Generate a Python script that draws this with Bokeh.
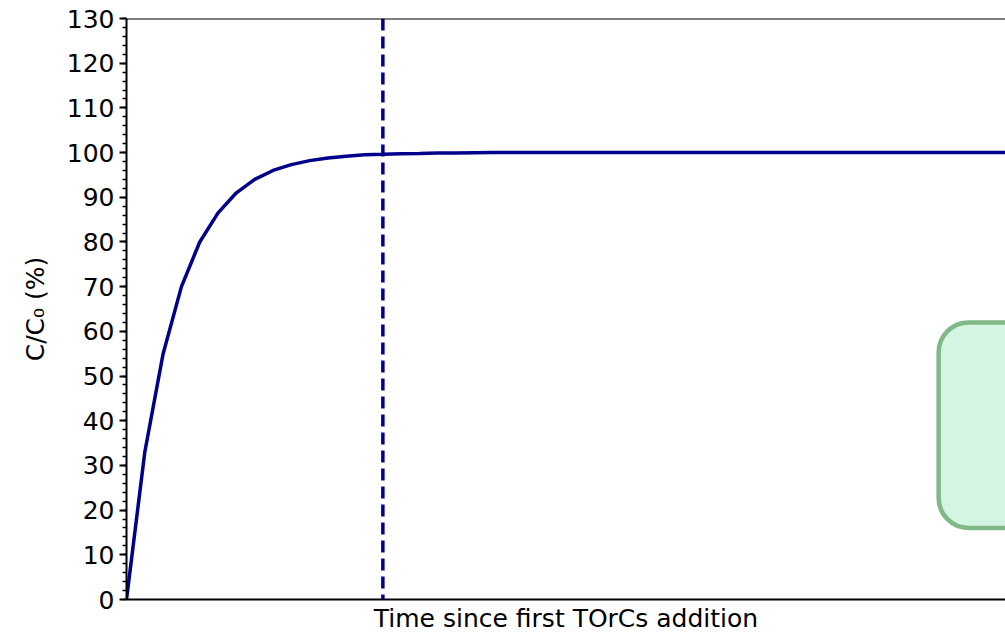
from bokeh.plotting import figure
from bokeh.models import Span, BoxAnnotation, FixedTicker, Range1d
from bokeh.embed import file_html
from bokeh.resources import INLINE

# Data
time = list(range(0, 49))
conc = [0, 33, 55, 70, 80, 86.5, 91, 94, 96, 97.3,
        98.2, 98.8, 99.2, 99.5, 99.6, 99.75, 99.8, 99.9, 99.9, 99.95,
        100, 100, 100, 100, 100, 100, 100, 100, 100, 100,
        100, 100, 100, 100, 100, 100, 100, 100, 100, 100,
        100, 100, 100, 100, 100, 100, 100, 100, 100]
first_addition_end = 14
y_ticks = [0, 10, 20, 30, 40, 50, 60, 70, 80, 90, 100, 110, 120, 130]
y_minor = [v for v in range(0, 131, 2)]
box_bottom, box_top, box_left = 16, 62, 44.35

FONT = "DejaVu Sans"

p = figure(width=1005, height=636, output_backend="svg", toolbar_location=None,
           x_range=Range1d(0, 48), y_range=Range1d(0, 130),
           min_border_left=126, min_border_right=0, min_border_top=18,
           min_border_bottom=37)
p.outline_line_color = None
p.grid.grid_line_color = None
p.background_fill_color = "white"
p.border_fill_color = "white"

p.line(time, conc, line_color="#00008b", line_width=3.5)

p.add_layout(Span(location=first_addition_end, dimension="height",
                  line_color="#00008b", line_width=3.5, line_dash="12 6"))
p.add_layout(Span(location=130, dimension="width", line_color="black",
                  line_width=2))

p.add_layout(BoxAnnotation(left=box_left, right=60, bottom=box_bottom, top=box_top,
                           fill_color="#d5f5e3", fill_alpha=1.0,
                           line_color="#80b888", line_alpha=1.0, line_width=4.5,
                           border_radius=30))

# y axis
ya = p.yaxis[0]
ya.ticker = FixedTicker(ticks=y_ticks, minor_ticks=y_minor)
ya.axis_label = "C/C\u2080 (%)"
ya.axis_label_text_font = FONT
ya.axis_label_text_font_style = "normal"
ya.axis_label_text_font_size = "25px"
ya.axis_label_text_color = "black"
ya.axis_label_standoff = 14
ya.major_label_text_font = FONT
ya.major_label_text_font_size = "25px"
ya.major_label_text_color = "black"
ya.major_label_standoff = 5
ya.major_tick_out = 7
ya.major_tick_in = 0
ya.minor_tick_out = 4
ya.minor_tick_in = 0
ya.axis_line_width = 2
ya.major_tick_line_width = 2
ya.minor_tick_line_width = 1.5

# x axis
xa = p.xaxis[0]
xa.ticker = FixedTicker(ticks=[])
xa.axis_label = "Time since first TOrCs addition"
xa.axis_label_text_font = FONT
xa.axis_label_text_font_style = "normal"
xa.axis_label_text_font_size = "25px"
xa.axis_label_text_color = "black"
xa.axis_label_standoff = 4
xa.major_label_text_font_size = "0px"
xa.major_label_standoff = 0
xa.major_tick_line_color = None
xa.minor_tick_line_color = None
xa.axis_line_width = 2

open("out.html", "w").write(file_html(p, INLINE))
